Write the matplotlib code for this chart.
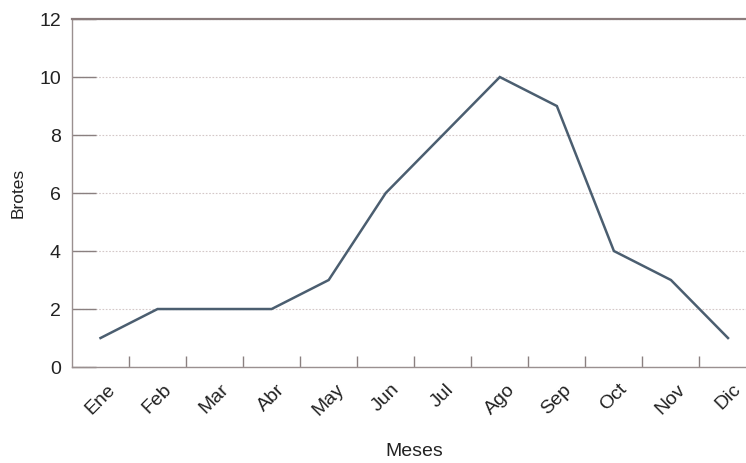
import matplotlib.pyplot as plt

# ------------------------
# Data
# ------------------------
meses = ["Ene", "Feb", "Mar", "Abr", "May", "Jun", "Jul", "Ago", "Sep", "Oct", "Nov", "Dic"]
brotes = [1, 2, 2, 2, 3, 6, 8, 10, 9, 4, 3, 1]
yticks = [0, 2, 4, 6, 8, 10, 12]

plt.rcParams["font.family"] = ["Liberation Sans", "DejaVu Sans"]

fig = plt.figure(figsize=(7.46, 4.63), dpi=100)
# axes run a little past the right edge, like the cropped original
ax = fig.add_axes([0.0965, 0.2073, 0.9176, 0.7516])

x = list(range(len(meses)))
ax.plot(x, brotes, color="#4b5e70", linewidth=1.8, solid_joinstyle="miter", zorder=3)

ax.set_xlim(-0.5, len(meses) - 0.5)
ax.set_ylim(0, 12)
ax.set_yticks(yticks)
ax.set_yticklabels([str(v) for v in yticks], fontsize=14, color="#222222")

# x ticks sit between the months, labels at month centres
ax.set_xticks([i + 0.5 for i in x[:-1]])
ax.set_xticklabels([])
ax.set_xticks(x, minor=True)
ax.set_xticklabels(meses, minor=True, rotation=45, ha="center", va="top",
                   fontsize=14, color="#222222")
ax.tick_params(axis="x", which="major", direction="in", length=8, width=1, color="#8a8080")
ax.tick_params(axis="x", which="minor", length=0, pad=10)
ax.tick_params(axis="y", direction="in", length=17, width=1, color="#8a8080", pad=8)

ax.grid(axis="y", color="#d4c8c8", linestyle=(0, (1.5, 1.5)), linewidth=0.8, zorder=0)

for s in ["left", "bottom"]:
    ax.spines[s].set_color("#9a9090")
    ax.spines[s].set_linewidth(1.0)
ax.spines["top"].set_color("#8a7c7c")
ax.spines["top"].set_linewidth(1.6)
ax.spines["right"].set_visible(False)

ax.set_ylabel("Brotes", fontsize=12.5, color="#222222", labelpad=10)
ax.set_xlabel("Meses", fontsize=14, color="#222222", labelpad=17)

fig.savefig("out.png", dpi=100)
